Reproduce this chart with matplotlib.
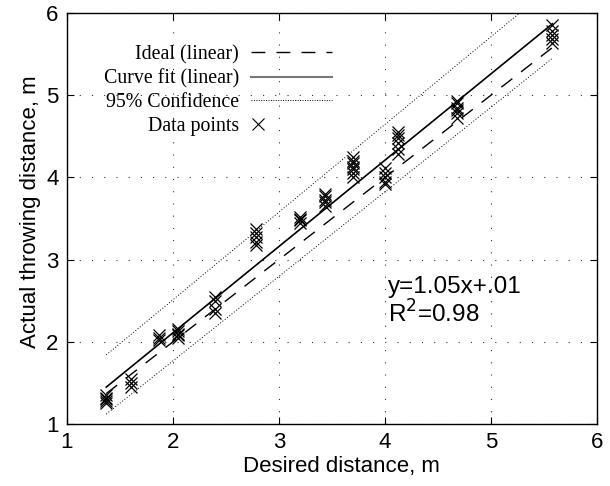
import matplotlib
matplotlib.use("Agg")
import matplotlib.pyplot as plt
from matplotlib.lines import Line2D
from matplotlib.legend_handler import HandlerLine2D

# Data points (desired distance, actual throwing distance)
desired_x = [1.37]*5 + [1.6]*3 + [1.87]*3 + [2.05]*5 + [2.4]*4 + [2.78]*5 + \
            [3.2]*4 + [3.43]*5 + [3.7]*7 + [4.0]*5 + [4.12]*6 + [4.68]*6 + [5.58]*5
actual_y = [1.25, 1.28, 1.30, 1.32, 1.35,
            1.45, 1.50, 1.55,
            2.02, 2.05, 2.08,
            2.05, 2.08, 2.10, 2.13, 2.15,
            2.35, 2.40, 2.50, 2.55,
            3.18, 3.22, 3.27, 3.32, 3.37,
            3.45, 3.48, 3.50, 3.52,
            3.65, 3.70, 3.73, 3.77, 3.80,
            4.00, 4.05, 4.10, 4.13, 4.17, 4.20, 4.25,
            3.92, 3.95, 4.00, 4.05, 4.12,
            4.28, 4.35, 4.42, 4.48, 4.52, 4.55,
            4.72, 4.78, 4.82, 4.85, 4.90, 4.93,
            5.63, 5.68, 5.73, 5.78, 5.85]

line_x = [1.37, 5.58]
ideal_y = [1.37, 5.58]
fit_slope, fit_intercept = 1.05, 0.01
conf_upper = [1.84, 6.33]
conf_lower = [1.12, 5.45]

ticks = [1, 2, 3, 4, 5, 6]
equation_lines = ['y=1.05x+.01', 'R$^2$=0.98']


class LeftMarkerHandler(HandlerLine2D):
    """Place the single legend marker near the left end of the handle."""
    def get_xdata(self, legend, xdescent, ydescent, width, height, fontsize):
        xm = [-xdescent + 0.08 * width]
        return xm, xm


W, H = 610, 486
fig = plt.figure(figsize=(W / 100, H / 100), dpi=100)
ax = fig.add_axes([67 / W, 1 - 424 / H, 530 / W, 411 / H])

sans = ['Liberation Sans', 'DejaVu Sans']
serif = ['Liberation Serif', 'DejaVu Serif']

fit_y = [fit_slope * v + fit_intercept for v in line_x]
ax.plot(line_x, ideal_y, color='black', lw=1.0, dashes=(10, 8))
ax.plot(line_x, fit_y, color='black', lw=1.2)
ax.plot(line_x, conf_upper, color='black', lw=0.7, ls=(0, (1, 2)))
ax.plot(line_x, conf_lower, color='black', lw=0.7, ls=(0, (1, 2)))
ax.plot(desired_x, actual_y, ls='none', marker='x', color='black', ms=9, mew=0.9)

ax.set_xlim(1, 6)
ax.set_ylim(1, 6)
ax.set_xticks(ticks)
ax.set_yticks(ticks)
ax.grid(True, color='black', ls=(0, (1, 10)), lw=0.8, alpha=0.8)
ax.tick_params(direction='in', top=True, right=True, length=5, labelsize=16, pad=6)
for lab in ax.get_xticklabels() + ax.get_yticklabels():
    lab.set_family(sans)
for s in ax.spines.values():
    s.set_linewidth(1.0)

ax.set_xlabel('Desired distance, m', fontsize=16, family=sans, labelpad=2, x=0.517)
ax.set_ylabel('Actual throwing distance, m', fontsize=16, family=sans, labelpad=4, y=0.516)

ax.text(4.03, 2.594, equation_lines[0], fontsize=17.5, family=sans,
        va='baseline', ha='left')
ax.text(4.03, 2.229, equation_lines[1], fontsize=17.5, family=sans,
        va='baseline', ha='left')

marker_handle = Line2D([], [], ls='none', marker='x', color='black', ms=9, mew=0.8)
handles = [
    Line2D([], [], color='black', lw=1.0, dashes=(10, 8)),
    Line2D([], [], color='#777777', lw=1.5),
    Line2D([], [], color='black', lw=0.7, ls=(0, (1, 1.5))),
    marker_handle,
]
labels = ['Ideal (linear)', 'Curve fit (linear)', '95% Confidence', 'Data points']
leg = ax.legend(handles, labels, loc='upper left',
                bbox_to_anchor=(96 / W, 1 - 37 / H), bbox_transform=fig.transFigure,
                borderaxespad=0, frameon=False, markerfirst=False, handlelength=4.05,
                prop={'family': serif, 'size': 14.3}, labelspacing=0.245,
                handletextpad=0.6,
                handler_map={marker_handle: LeftMarkerHandler(numpoints=2)})
for t in leg.get_texts():
    t.set_ha('right')

fig.savefig('out.png', dpi=100)
